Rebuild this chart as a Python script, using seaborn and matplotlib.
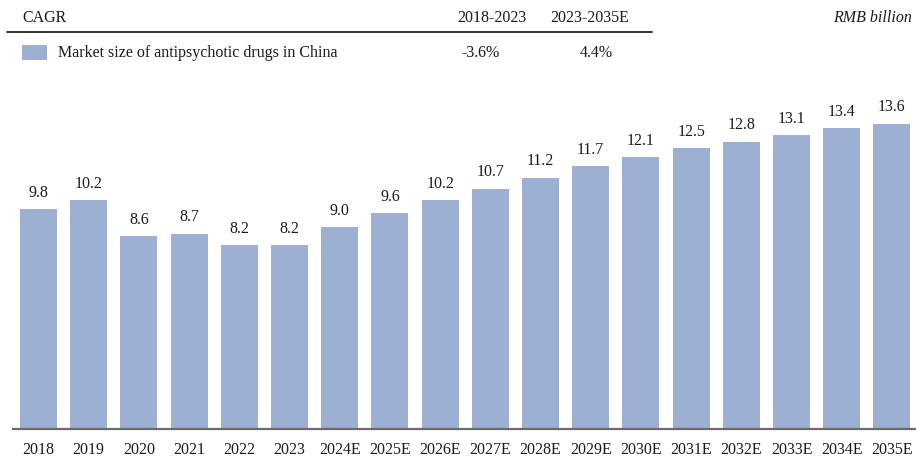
import matplotlib
matplotlib.use("Agg")
import matplotlib.pyplot as plt
from matplotlib.patches import Rectangle
from matplotlib.lines import Line2D
import seaborn as sns
import pandas as pd

years = ["2018", "2019", "2020", "2021", "2022", "2023", "2024E", "2025E", "2026E",
         "2027E", "2028E", "2029E", "2030E", "2031E", "2032E", "2033E", "2034E", "2035E"]
market_size = [9.8, 10.2, 8.6, 8.7, 8.2, 8.2, 9.0, 9.6, 10.2,
               10.7, 11.2, 11.7, 12.1, 12.5, 12.8, 13.1, 13.4, 13.6]
cagr_periods = ["2018-2023", "2023-2035E"]
cagr_values = ["-3.6%", "4.4%"]
series_name = "Market size of antipsychotic drugs in China"
unit_label = "RMB billion"

BAR_COLOR = "#9db0d3"
TEXT_COLOR = "#1a1a1a"
FS = 11.5

sns.set_style("white")
plt.rcParams["font.family"] = ["Liberation Serif", "DejaVu Serif"]

df = pd.DataFrame({"year": years, "value": market_size})

W, H = 916, 458
fig = plt.figure(figsize=(W / 100, H / 100), dpi=100)
ax = fig.add_axes([13 / W, (H - 429) / H, (916 - 13) / W, (429 - 60) / H])

sns.barplot(data=df, x="year", y="value", color=BAR_COLOR, width=0.74,
            saturation=1, linewidth=0, edgecolor="none", ax=ax)

ax.set_xlim(-0.508, 17.48)
ax.set_ylim(0, (429 - 60) / 22.45)
for s in ["top", "right", "left"]:
    ax.spines[s].set_visible(False)
ax.spines["bottom"].set_color("#6b6b6b")
ax.spines["bottom"].set_linewidth(1.6)
ax.set_yticks([])
ax.set_xlabel("")
ax.set_ylabel("")
ax.tick_params(axis="x", length=0, pad=9, labelsize=FS, labelcolor=TEXT_COLOR)

for i, v in enumerate(market_size):
    ax.annotate(f"{v:.1f}", (i, v), xytext=(0, 6), textcoords="offset points",
                ha="center", va="bottom", fontsize=FS, color=TEXT_COLOR)

# Header: CAGR table and unit
def fx(px):
    return px / W

def fy(py):
    return 1 - py / H

fig.text(fx(22), fy(18), "CAGR", ha="left", va="center", fontsize=FS, color=TEXT_COLOR)
fig.text(fx(492), fy(18), cagr_periods[0], ha="center", va="center", fontsize=FS, color=TEXT_COLOR)
fig.text(fx(590), fy(18), cagr_periods[1], ha="center", va="center", fontsize=FS, color=TEXT_COLOR)
fig.text(fx(912), fy(18), unit_label, ha="right", va="center", fontsize=FS,
         style="italic", color=TEXT_COLOR)
fig.add_artist(Line2D([fx(7), fx(652)], [fy(32), fy(32)], color="#222222", lw=1.3))

fig.add_artist(Rectangle((fx(22), fy(60)), fx(25), 15 / H, color=BAR_COLOR, lw=0))
fig.text(fx(58), fy(53), series_name, ha="left", va="center", fontsize=FS, color=TEXT_COLOR)
fig.text(fx(480), fy(53), cagr_values[0], ha="center", va="center", fontsize=FS, color=TEXT_COLOR)
fig.text(fx(596), fy(53), cagr_values[1], ha="center", va="center", fontsize=FS, color=TEXT_COLOR)

fig.savefig("out.png", dpi=100)
